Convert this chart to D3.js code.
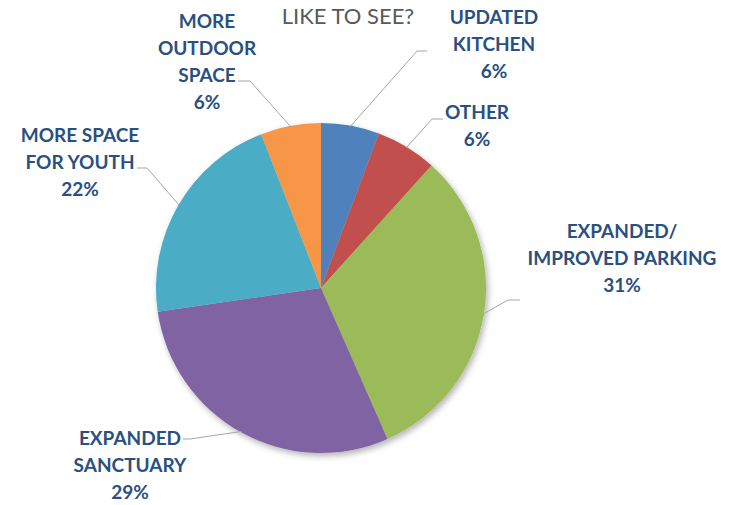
<!DOCTYPE html>
<html>
<head>
<meta charset="utf-8">
<script src="https://cdn.jsdelivr.net/npm/d3@7"></script>
<style>
  body { margin: 0; background: #fff; }
  .lbl { font-family: Lato, "Open Sans", sans-serif; font-weight: bold; font-size: 19px; fill: #2a5082; }
  .title { font-family: Lato, "Open Sans", sans-serif; font-size: 22px; fill: #595959; }
</style>
</head>
<body>
<svg id="chart" width="733" height="505"></svg>
<script>
// slices clockwise from 12 o'clock
const categories = ["UPDATED KITCHEN", "OTHER", "EXPANDED/ IMPROVED PARKING", "EXPANDED SANCTUARY", "MORE SPACE FOR YOUTH", "MORE OUTDOOR SPACE"];
const shares = [5.7, 6.0, 31.7, 29.3, 21.4, 5.9];
const pctLabels = ["6%", "6%", "31%", "29%", "22%", "6%"];
const labelLines = [
    ["UPDATED", "KITCHEN"],
    ["OTHER"],
    ["EXPANDED/", "IMPROVED PARKING"],
    ["EXPANDED", "SANCTUARY"],
    ["MORE SPACE", "FOR YOUTH"],
    ["MORE", "OUTDOOR", "SPACE"]
];
const colors = ["#4f81bd", "#c0504d", "#9bbb59", "#8064a2", "#4bacc6", "#f79646"];

// layout: label centre x, first baseline y, leader elbow and end
const layout = [
    {x: 494, y: 24, elbow: [417, 51], end: [427, 51]},
    {x: 477, y: 119, elbow: [432, 119], end: [443, 119]},
    {x: 622, y: 238, elbow: [508, 300], end: [520, 300]},
    {x: 130, y: 445, elbow: [190, 439], end: [183, 439]},
    {x: 80, y: 142, elbow: [147, 168], end: [137, 168]},
    {x: 207, y: 28, elbow: [250, 81], end: [238, 81]}
];

const cx = 321, cy = 288, radius = 165, lineGap = 27;
const svg = d3.select("#chart");

const defs = svg.append("defs");
const filt = defs.append("filter").attr("id", "shadow")
    .attr("x", "-10%").attr("y", "-10%").attr("width", "130%").attr("height", "130%");
filt.append("feDropShadow").attr("dx", 2).attr("dy", 3).attr("stdDeviation", 3)
    .attr("flood-color", "#000").attr("flood-opacity", 0.3);

svg.append("text").attr("class", "title")
    .attr("x", 348).attr("y", 24).attr("text-anchor", "middle")
    .text("LIKE TO SEE?");

const pie = d3.pie().sort(null).value(d => d);
const arcs = pie(shares);
const arc = d3.arc().innerRadius(0).outerRadius(radius);

const g = svg.append("g").attr("transform", `translate(${cx},${cy})`);
g.append("g").attr("filter", "url(#shadow)")
    .selectAll("path").data(arcs).enter()
    .append("path")
    .attr("d", arc)
    .attr("fill", (d, i) => colors[i]);

// leader lines
svg.selectAll(".leader").data(arcs).enter()
    .append("polyline")
    .attr("class", "leader")
    .attr("fill", "none")
    .attr("stroke", "#a6a6a6")
    .attr("stroke-width", 1)
    .attr("points", (d, i) => {
        const a = (d.startAngle + d.endAngle) / 2;
        const p = [cx + (radius - 1) * Math.sin(a), cy - (radius - 1) * Math.cos(a)];
        return [p, layout[i].elbow, layout[i].end].map(q => q.join(",")).join(" ");
    });

// labels
arcs.forEach((d, i) => {
    const lines = labelLines[i].concat([pctLabels[i]]);
    const t = svg.append("text").attr("class", "lbl")
        .attr("text-anchor", "middle");
    lines.forEach((s, j) => {
        t.append("tspan").attr("x", layout[i].x).attr("y", layout[i].y + j * lineGap).text(s);
    });
});
</script>
</body>
</html>
